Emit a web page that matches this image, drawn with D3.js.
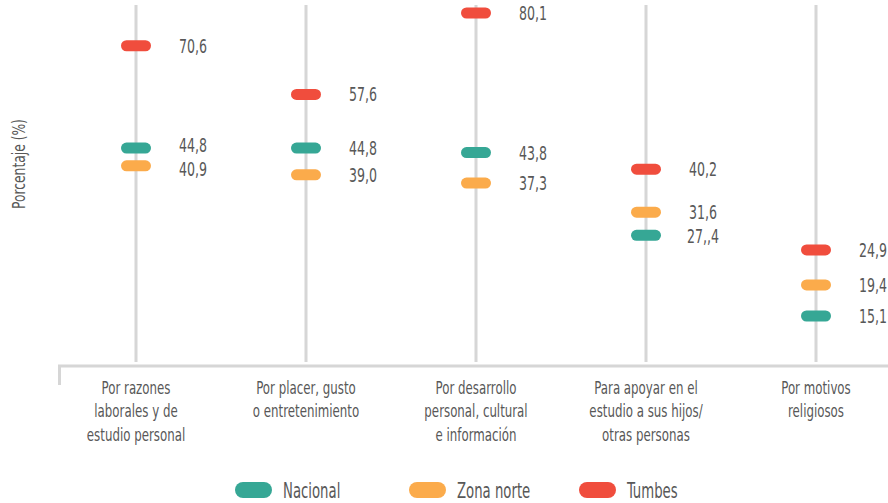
<!DOCTYPE html>
<html>
<head>
<meta charset="utf-8">
<script src="https://cdn.jsdelivr.net/npm/d3@7"></script>
<style>
  html, body { margin: 0; padding: 0; background: #ffffff; }
  svg { display: block; }
  text { font-family: 'DejaVu Sans Condensed', 'Liberation Sans Narrow', 'Roboto', sans-serif; fill: #585858; }
</style>
</head>
<body>
<svg id="chart" width="888" height="503"></svg>
<script>
// ---- data ----
const categories = [
  ["Por razones", "laborales y de", "estudio personal"],
  ["Por placer, gusto", "o entretenimiento"],
  ["Por desarrollo", "personal, cultural", "e información"],
  ["Para apoyar en el", "estudio a sus hijos/", "otras personas"],
  ["Por motivos", "religiosos"]
];
const seriesNames = ["Nacional", "Zona norte", "Tumbes"];
const nacional  = [44.8, 44.8, 43.8, 27.4, 15.1];
const zonaNorte = [40.9, 39.0, 37.3, 31.6, 19.4];
const tumbes    = [70.6, 57.6, 80.1, 40.2, 24.9];
const labelOverrides = { "Nacional-3": "27,,4" };
const yTitle = "Porcentaje (%)";

// ---- setup ----
const colors = { "Nacional": "#36a795", "Zona norte": "#fbab4b", "Tumbes": "#f04d3d" };
const seriesValues = { "Nacional": nacional, "Zona norte": zonaNorte, "Tumbes": tumbes };
const fmt = d3.formatLocale({ decimal: ",", thousands: ".", grouping: [3], currency: ["", ""] }).format(".1f");

const svg = d3.select("#chart");
const catKeys = categories.map(c => c.join(" "));
const x = d3.scalePoint().domain(catKeys).range([136, 816]);
const allVals = [].concat(nacional, zonaNorte, tumbes);
const y = d3.scalePow().exponent(0.5).domain(d3.extent(allVals)).range([316, 13]);

function ctext(g, tx, ty, str, opts) {
  return g.append("text")
    .attr("transform", `translate(${tx},${ty}) scale(${opts.sx},1)`)
    .attr("text-anchor", opts.anchor || "middle")
    .style("font-size", opts.size + "px")
    .text(str);
}

const gray = "#d6d6d6";
// vertical guide lines
svg.append("g").selectAll("line").data(catKeys).join("line")
  .attr("x1", d => x(d)).attr("x2", d => x(d))
  .attr("y1", 5).attr("y2", 362)
  .attr("stroke", gray).attr("stroke-width", 3);

// bottom axis line
const axisY = 366;
svg.append("line").attr("x1", 58).attr("x2", 888).attr("y1", axisY).attr("y2", axisY)
  .attr("stroke", gray).attr("stroke-width", 3);
svg.append("line").attr("x1", 59.5).attr("x2", 59.5).attr("y1", axisY).attr("y2", 385)
  .attr("stroke", gray).attr("stroke-width", 3);

// category labels
const catG = svg.append("g");
categories.forEach((lines, i) => {
  lines.forEach((ln, j) => {
    ctext(catG, x(catKeys[i]), 393.5 + j * 23.7, ln, { size: 18, sx: 0.73 });
  });
});

// pills
const pw = 30, ph = 11;
const markG = svg.append("g");
seriesNames.forEach(s => {
  markG.selectAll(null).data(seriesValues[s]).join("rect")
    .attr("x", (d, i) => x(catKeys[i]) - pw / 2)
    .attr("y", d => y(d) - ph / 2)
    .attr("width", pw).attr("height", ph)
    .attr("rx", ph / 2).attr("ry", ph / 2)
    .attr("fill", colors[s]);
});

// value labels with simple vertical dodging per category
const labG = svg.append("g");
const minGap = 24;
catKeys.forEach((ck, i) => {
  const items = seriesNames.map(s => ({
    text: labelOverrides[s + "-" + i] || fmt(seriesValues[s][i]),
    y: y(seriesValues[s][i])
  })).sort((a, b) => a.y - b.y);
  items.forEach(d => d.ly = d.y);
  for (let k = 0; k < 20; k++) {
    for (let j = 1; j < items.length; j++) {
      const gap = items[j].ly - items[j - 1].ly;
      if (gap < minGap) {
        const push = (minGap - gap) / 2;
        items[j].ly += push;
        items[j - 1].ly -= push;
      }
    }
  }
  items.forEach(d => ctext(labG, x(ck) + 57, d.ly + 7, d.text, { size: 20, sx: 0.70 }));
});

// y title
svg.append("text")
  .attr("transform", `translate(25,164) rotate(-90) scale(0.76,1)`)
  .attr("text-anchor", "middle")
  .style("font-size", "18px")
  .text(yTitle);

// legend
const legX = [235, 409, 579];
const legG = svg.append("g");
seriesNames.forEach((s, i) => {
  legG.append("rect")
    .attr("x", legX[i]).attr("y", 490 - 8)
    .attr("width", 37).attr("height", 16)
    .attr("rx", 8).attr("ry", 8)
    .attr("fill", colors[s]);
  ctext(legG, legX[i] + 48, 497.5, s, { size: 22, sx: 0.67, anchor: "start" });
});
</script>
</body>
</html>
